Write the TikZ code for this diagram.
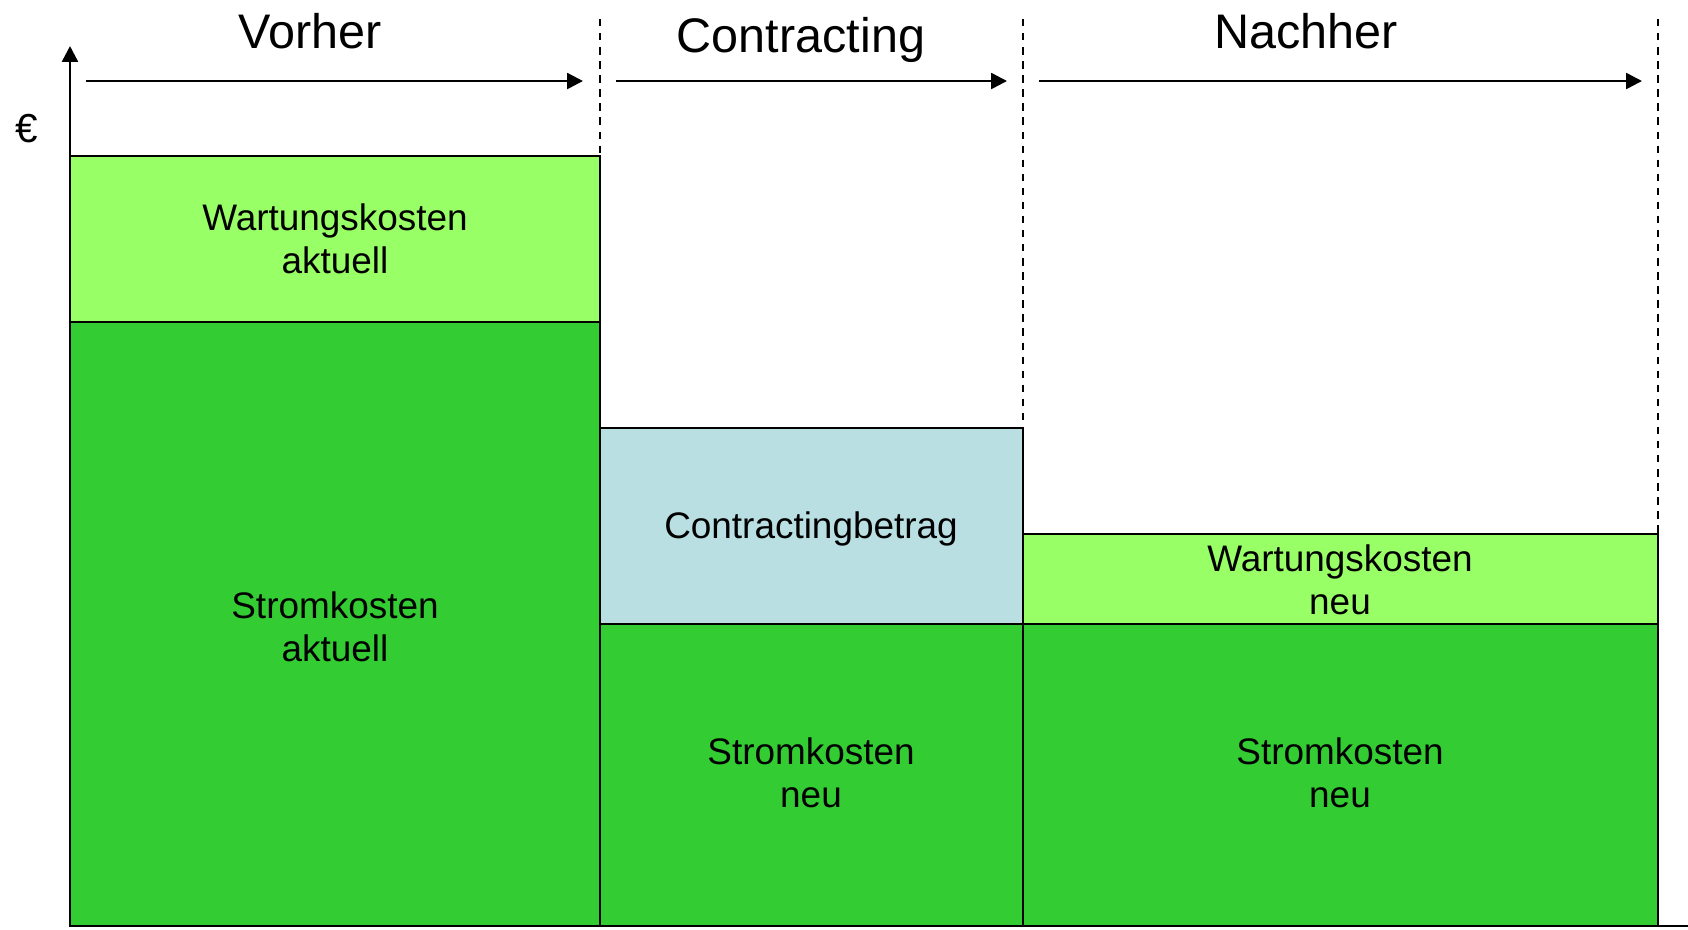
\documentclass[tikz,border=0pt]{standalone}
\usepackage{fontspec}
\setmainfont{Liberation Sans}
\usepackage{xcolor}
\usetikzlibrary{arrows.meta,positioning,calc}
\definecolor{hellgruen}{HTML}{99FF66}
\definecolor{dunkelgruen}{HTML}{33CC33}
\definecolor{hellblau}{HTML}{BADFE3}

\begin{document}
\begin{tikzpicture}[x=0.01cm, y=-0.01cm,
    bar/.style={draw=black, line width=0.6pt},
    lbl/.style={align=center, font=\fontsize{10.5}{12.2}\selectfont},
    titel/.style={anchor=base, font=\fontsize{13.8}{16}\selectfont},
    grenze/.style={line width=0.4pt, dash pattern=on 2.1pt off 1.9pt},
    pfeil/.style={line width=0.7pt, -{Triangle[length=4.5pt, width=4.5pt]}}]
    \useasboundingbox (0,0) rectangle (1688,929);

    % Balken
    \draw [bar, fill=hellgruen] (70,156) rectangle (600,322);
    \draw [bar, fill=dunkelgruen] (70,322) rectangle (600,926);
    \draw [bar, fill=hellblau] (600,428) rectangle (1023,624);
    \draw [bar, fill=dunkelgruen] (600,624) rectangle (1023,926);
    \draw [bar, fill=hellgruen] (1023,534) rectangle (1658,624);
    \draw [bar, fill=dunkelgruen] (1023,624) rectangle (1658,926);

    \node [lbl] (wartAlt) at (335,239) {Wartungskosten\\aktuell};
    \node [lbl] (stromAlt) at (335,627) {Stromkosten\\aktuell};
    \node [lbl] (betrag) at (811,529) {Contractingbetrag};
    \node [lbl] (stromMitte) at (811,773) {Stromkosten\\neu};
    \node [lbl] (wartNeu) at (1340,580) {Wartungskosten\\neu};
    \node [lbl] (stromNeu) at (1340,773) {Stromkosten\\neu};

    % Achsen
    \coordinate (ursprung) at (70,926);
    \coordinate (yspitze) at (70,46);
    \coordinate (xende) at (1688,926);
    \draw [pfeil] (ursprung) -- (yspitze);
    \draw [line width=0.7pt] (ursprung) -- (xende);
    \node [lbl, font=\fontsize{11.5}{13}\selectfont] (euro) at (27,129) {€};

    % Phasen
    \node [titel] (vorher) at (310,48) {Vorher};
    \node [titel] (contr) at (801,52) {Contracting};
    \node [titel] (nachher) at (1306,48) {Nachher};

    \coordinate (g1o) at (600,19); \coordinate (g1u) at (600,156);
    \coordinate (g2o) at (1023,19); \coordinate (g2u) at (1023,428);
    \coordinate (g3o) at (1658,19); \coordinate (g3u) at (1658,534);
    \draw [grenze] (g1o) -- (g1u);
    \draw [grenze] (g2o) -- (g2u);
    \draw [grenze] (g3o) -- (g3u);

    \coordinate (p1a) at (86,81); \coordinate (p1b) at (583,81);
    \coordinate (p2a) at (616,81); \coordinate (p2b) at (1007,81);
    \coordinate (p3a) at (1039,81); \coordinate (p3b) at (1642,81);
    \draw [pfeil] (p1a) -- (p1b);
    \draw [pfeil] (p2a) -- (p2b);
    \draw [pfeil] (p3a) -- (p3b);
\end{tikzpicture}
\end{document}
